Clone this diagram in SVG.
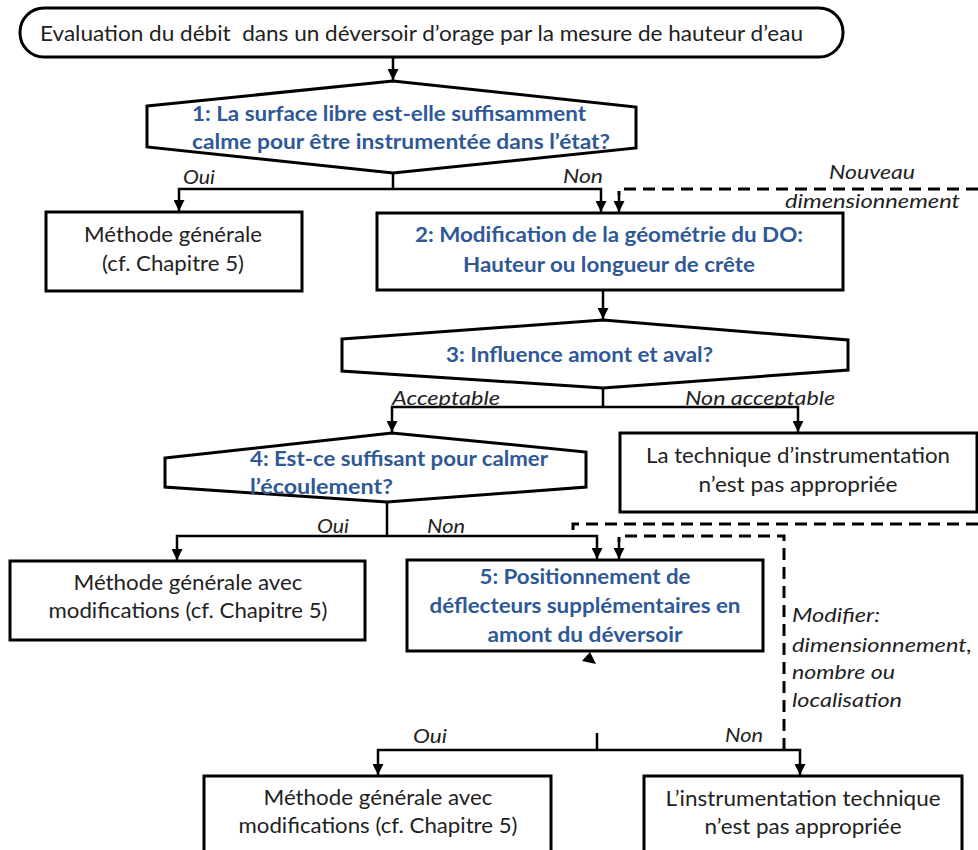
<svg xmlns="http://www.w3.org/2000/svg" width="978" height="850" viewBox="0 0 978 850">
<defs>
<marker id="ah" viewBox="0 0 10 10" refX="10" refY="5" markerWidth="11" markerHeight="11" markerUnits="userSpaceOnUse" orient="auto">
<path d="M0,0 L10,5 L0,10 z" fill="#000"/>
</marker>
<style>
.box{fill:#fff;stroke:#000;stroke-width:3}
.ln{fill:none;stroke:#000;stroke-width:2.5}
.dash{fill:none;stroke:#000;stroke-width:3;stroke-dasharray:12 7}
.t{font-family:Lato,"Liberation Sans",sans-serif;font-size:21px;fill:#222}
.b{font-family:Lato,"Liberation Sans",sans-serif;font-size:21px;font-weight:bold;fill:#2f5897}
.i{font-family:Lato,"Liberation Sans",sans-serif;font-size:20px;font-style:italic;fill:#222}
.c{text-anchor:middle}
.pre{white-space:pre}
</style>
</defs>
<rect width="978" height="850" fill="#fff"/>

<g id="start">
<rect class="box" x="20" y="8" width="823" height="49" rx="24" ry="24"/>
<text class="t pre" x="40" y="41" textLength="763" lengthAdjust="spacingAndGlyphs" xml:space="preserve">Evaluation du débit  dans un déversoir d’orage par la mesure de hauteur d’eau</text>
</g>

<g id="q1">
<polygon class="box" points="147,106 393,81 636,107 636,148 393,173 147,147"/>
<text class="b" x="192" y="121" textLength="394" lengthAdjust="spacingAndGlyphs">1: La surface libre est-elle suffisamment</text>
<text class="b" x="192" y="149" textLength="418" lengthAdjust="spacingAndGlyphs">calme pour être instrumentée dans l’état?</text>
</g>

<g id="methode1">
<rect class="box" x="46" y="212" width="256" height="79"/>
<text class="t c" x="173" y="242" textLength="178" lengthAdjust="spacingAndGlyphs">Méthode générale</text>
<text class="t c" x="173" y="271" textLength="142" lengthAdjust="spacingAndGlyphs">(cf. Chapitre 5)</text>
</g>

<g id="q2">
<rect class="box" x="377" y="213" width="466" height="77"/>
<text class="b c" x="609" y="242" textLength="388" lengthAdjust="spacingAndGlyphs">2: Modification de la géométrie du DO:</text>
<text class="b c" x="609" y="272" textLength="292" lengthAdjust="spacingAndGlyphs">Hauteur ou longueur de crête</text>
</g>

<g id="q3">
<polygon class="box" points="342,339 603,320 848,340 848,370 603,388 342,371"/>
<text class="b" x="446" y="362" textLength="267" lengthAdjust="spacingAndGlyphs">3: Influence amont et aval?</text>
</g>

<g id="technique1">
<rect class="box" x="620" y="433" width="357" height="79"/>
<text class="t c" x="798" y="463" textLength="304" lengthAdjust="spacingAndGlyphs">La technique d’instrumentation</text>
<text class="t c" x="798" y="492" textLength="199" lengthAdjust="spacingAndGlyphs">n’est pas appropriée</text>
</g>

<g id="q4">
<polygon class="box" points="165,458 392,433 586,452 586,487 387,502 165,487"/>
<text class="b" x="250" y="466" textLength="298" lengthAdjust="spacingAndGlyphs">4: Est-ce suffisant pour calmer</text>
<text class="b" x="250" y="494" textLength="143" lengthAdjust="spacingAndGlyphs">l’écoulement?</text>
</g>

<g id="methode2">
<rect class="box" x="10" y="561" width="355" height="79"/>
<text class="t c" x="188" y="590" textLength="229" lengthAdjust="spacingAndGlyphs">Méthode générale avec</text>
<text class="t c" x="188" y="618" textLength="279" lengthAdjust="spacingAndGlyphs">modifications (cf. Chapitre 5)</text>
</g>

<g id="q5">
<rect class="box" x="407" y="560" width="356" height="91"/>
<text class="b c" x="585" y="584" textLength="211" lengthAdjust="spacingAndGlyphs">5: Positionnement de</text>
<text class="b c" x="585" y="613" textLength="311" lengthAdjust="spacingAndGlyphs">déflecteurs supplémentaires en</text>
<text class="b c" x="585" y="642" textLength="195" lengthAdjust="spacingAndGlyphs">amont du déversoir</text>
</g>

<g id="methode3">
<rect class="box" x="204" y="776" width="347" height="84"/>
<text class="t c" x="378" y="805" textLength="229" lengthAdjust="spacingAndGlyphs">Méthode générale avec</text>
<text class="t c" x="378" y="833" textLength="279" lengthAdjust="spacingAndGlyphs">modifications (cf. Chapitre 5)</text>
</g>

<g id="technique2">
<rect class="box" x="644" y="776" width="318" height="84"/>
<text class="t c" x="803" y="806" textLength="275" lengthAdjust="spacingAndGlyphs">L’instrumentation technique</text>
<text class="t c" x="803" y="834" textLength="197" lengthAdjust="spacingAndGlyphs">n’est pas appropriée</text>
</g>

<g id="connectors">
<path class="ln" d="M393,57 V80" marker-end="url(#ah)"/>
<path class="ln" d="M393,173 V189"/>
<path class="ln" d="M393,189 H179 V211" marker-end="url(#ah)"/>
<path class="ln" d="M393,189 H601 V212" marker-end="url(#ah)"/>
<path class="dash" d="M978,189 H619 V195"/>
<path class="ln" d="M619,194 V212" marker-end="url(#ah)"/>
<path class="ln" d="M603,290 V319" marker-end="url(#ah)"/>
<path class="ln" d="M603,388 V407"/>
<path class="ln" d="M603,407 H392 V432" marker-end="url(#ah)"/>
<path class="ln" d="M603,407 H798 V432" marker-end="url(#ah)"/>
<path class="ln" d="M387,502 V536"/>
<path class="ln" d="M387,536 H177 V560" marker-end="url(#ah)"/>
<path class="ln" d="M387,536 H597 V559" marker-end="url(#ah)"/>
<path class="dash" d="M978,524 H573 V536"/>
<path class="dash" d="M784,750 V536 H619 V542"/>
<path class="ln" d="M619,541 V559" marker-end="url(#ah)"/>
<polygon points="582,661 590,652 596,664" fill="#000"/>
<path class="ln" d="M597,733 V750"/>
<path class="ln" d="M597,750 H378 V775" marker-end="url(#ah)"/>
<path class="ln" d="M597,750 H800 V775" marker-end="url(#ah)"/>
</g>

<g id="labels">
<text class="i" x="183" y="184" textLength="32" lengthAdjust="spacingAndGlyphs">Oui</text>
<text class="i" x="563" y="183" textLength="40" lengthAdjust="spacingAndGlyphs">Non</text>
<text class="i" x="829" y="179" textLength="86" lengthAdjust="spacingAndGlyphs">Nouveau</text>
<text class="i" x="785" y="208" textLength="175" lengthAdjust="spacingAndGlyphs">dimensionnement</text>
<text class="i" x="392" y="405" textLength="108" lengthAdjust="spacingAndGlyphs">Acceptable</text>
<text class="i" x="685" y="405" textLength="150" lengthAdjust="spacingAndGlyphs">Non acceptable</text>
<text class="i" x="317" y="533" textLength="32" lengthAdjust="spacingAndGlyphs">Oui</text>
<text class="i" x="427" y="533" textLength="38" lengthAdjust="spacingAndGlyphs">Non</text>
<text class="i" x="792" y="622" textLength="88" lengthAdjust="spacingAndGlyphs">Modifier:</text>
<text class="i" x="792" y="652" textLength="180" lengthAdjust="spacingAndGlyphs">dimensionnement,</text>
<text class="i" x="792" y="679" textLength="103" lengthAdjust="spacingAndGlyphs">nombre ou</text>
<text class="i" x="792" y="707" textLength="110" lengthAdjust="spacingAndGlyphs">localisation</text>
<text class="i" x="413" y="743" textLength="34" lengthAdjust="spacingAndGlyphs">Oui</text>
<text class="i" x="725" y="742" textLength="38" lengthAdjust="spacingAndGlyphs">Non</text>
</g>
</svg>
